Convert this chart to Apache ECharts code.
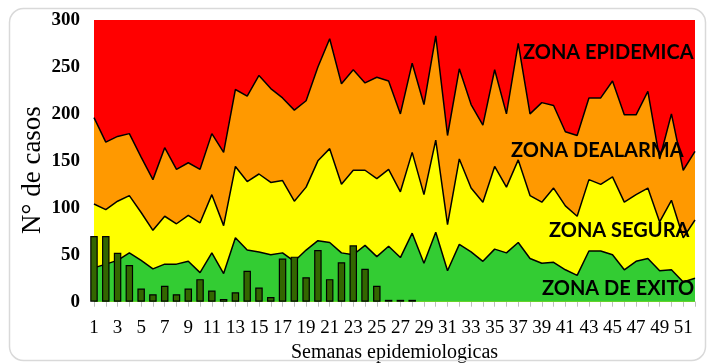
<!DOCTYPE html>
<html><head><meta charset="utf-8">
<script src="https://cdn.jsdelivr.net/npm/echarts/dist/echarts.min.js"></script>
<style>html,body{margin:0;padding:0;background:#fff}#c{width:709px;height:363px}</style>
</head><body><div id="c"></div>
<script>
const weeks = ['1','2','3','4','5','6','7','8','9','10','11','12','13','14','15','16','17','18','19','20','21','22','23','24','25','26','27','28','29','30','31','32','33','34','35','36','37','38','39','40','41','42','43','44','45','46','47','48','49','50','51','52'];
// upper limit of alarm zone (epidemic threshold)
const upper = [196,170,176,179,154,130,164,141,148,141,179,159,226,219,241,227,217,204,214,250,280,232,247,233,239,235,200,254,210,283,177,248,210,188,247,200,275,200,212,209,181,177,217,217,235,199,199,224,152,200,140,160];
// upper limit of safety zone
const middle = [104,98,107,113,95,76,91,83,92,84,114,81,144,128,136,127,129,107,122,150,163,125,140,140,131,141,117,159,114,172,82,152,121,106,144,122,151,113,106,121,102,91,130,125,133,106,114,121,85,108,68,87];
// upper limit of success zone
const lower = [36,40,44,52,44,35,40,40,43,31,52,30,68,55,53,50,52,43,55,65,63,52,50,60,48,59,47,73,41,74,33,61,53,43,56,52,63,46,41,42,34,28,54,54,50,34,43,46,33,34,21,25];
// observed cases
const cases = [70,70,52,39,14,8,17,8,14,24,12,3,10,33,15,5,46,48,26,55,24,42,60,35,17,2,2,2,null,null,null,null,null,null,null,null,null,null,null,null,null,null,null,null,null,null,null,null,null,null,null,null];
const zoneLabels = ['ZONA EPIDEMICA','ZONA DEALARMA','ZONA SEGURA','ZONA DE EXITO'];
const yTitle = 'N° de casos';
const xTitle = 'Semanas epidemiologicas';

const chart = echarts.init(document.getElementById('c'), null, {renderer:'canvas'});
const lineStyle = {color:'#000', width:1.5};
const zoneFont = {fontFamily:'Lato', fontWeight:'bold', fontSize:20, fill:'#000'};
chart.setOption({
  animation:false,
  grid:{left:94, right:14, top:20, bottom:61.3, show:true, backgroundColor:'#FF0000', borderWidth:0, containLabel:false, outerBoundsMode:'none'},
  xAxis:{type:'category', data:weeks, boundaryGap:false,
    axisLine:{show:true, lineStyle:{color:'#d9d9d9'}},
    axisTick:{show:true, interval:0, length:5, lineStyle:{color:'#bfbfbf'}},
    axisLabel:{interval:1, fontFamily:'Liberation Serif', fontSize:19, color:'#000', margin:17},
    name:xTitle, nameLocation:'middle', nameGap:38,
    nameTextStyle:{fontFamily:'Liberation Serif', fontSize:20, color:'#000'}
  },
  yAxis:{type:'value', min:0, max:300, interval:50,
    axisLine:{show:false}, axisTick:{show:false}, splitLine:{show:false},
    axisLabel:{fontFamily:'Liberation Serif', fontWeight:'bold', fontSize:19, color:'#000', margin:14}
  },
  series:[
    {type:'line', data:upper, symbol:'none', lineStyle:lineStyle, areaStyle:{color:'#FF9900', opacity:1}, z:2},
    {type:'line', data:middle, symbol:'none', lineStyle:lineStyle, areaStyle:{color:'#FFFF00', opacity:1}, z:3},
    {type:'line', data:lower, symbol:'none', lineStyle:lineStyle, areaStyle:{color:'#33CC33', opacity:1}, z:4},
    {type:'bar', data:cases, barWidth:7.5, clip:true, itemStyle:{color:'#336600', borderColor:'#000', borderWidth:1.2}, z:5}
  ],
  graphic:[
    {type:'rect', shape:{x:9.5, y:8.5, width:696, height:352, r:14}, style:{fill:'none', stroke:'#d9d9d9', lineWidth:1.5}, z:100},
    {type:'text', x:33, y:170, rotation:Math.PI/2, style:{text:yTitle, fontFamily:'Liberation Serif', fontSize:27, fill:'#000', textAlign:'center', textVerticalAlign:'middle'}, z:100},
    {type:'text', x:523, y:53, style:Object.assign({text:zoneLabels[0], textVerticalAlign:'middle'}, zoneFont), z:100},
    {type:'text', x:511, y:151, style:Object.assign({text:zoneLabels[1], textVerticalAlign:'middle'}, zoneFont), z:100},
    {type:'text', x:549, y:231, style:Object.assign({text:zoneLabels[2], textVerticalAlign:'middle'}, zoneFont), z:100},
    {type:'text', x:542, y:289, style:Object.assign({text:zoneLabels[3], textVerticalAlign:'middle'}, zoneFont), z:100}
  ]
});
</script></body></html>
